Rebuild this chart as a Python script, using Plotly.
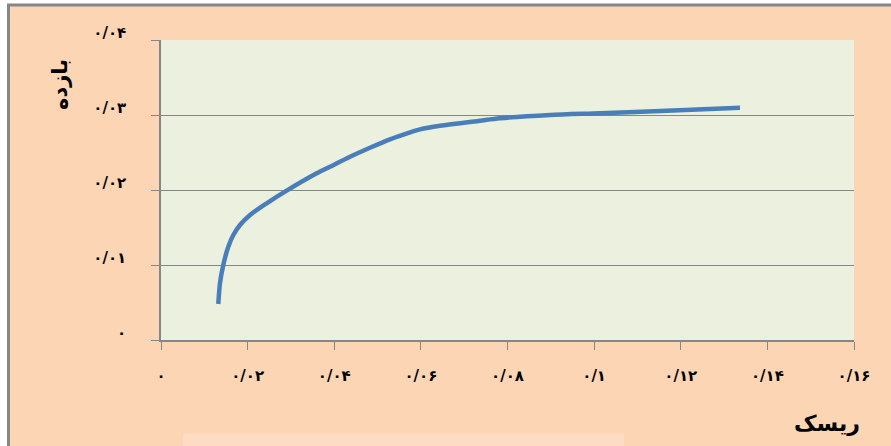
import plotly.graph_objects as go

# Data (risk vs return efficient frontier)
risk = [0.01323, 0.01362, 0.01438, 0.01554, 0.01670, 0.01824, 0.02055, 0.02440,
        0.02902, 0.03595, 0.03902, 0.04364, 0.04825, 0.05287, 0.05749, 0.05980,
        0.06442, 0.07365, 0.07827, 0.08981, 0.10136, 0.11676, 0.13368]
ret = [0.00480, 0.00756, 0.01000, 0.01244, 0.01400, 0.01533, 0.01667, 0.01823,
       0.01991, 0.02222, 0.02311, 0.02444, 0.02564, 0.02676, 0.02769, 0.02809,
       0.02857, 0.02924, 0.02956, 0.03000, 0.03023, 0.03057, 0.03097]

x_tickvals = [0, 0.02, 0.04, 0.06, 0.08, 0.10, 0.12, 0.14, 0.16]
x_ticktext = ["۰", "۰/۰۲", "۰/۰۴", "۰/۰۶", "۰/۰۸", "۰/۱", "۰/۱۲", "۰/۱۴", "۰/۱۶"]
y_tickvals = [0, 0.01, 0.02, 0.03, 0.04]
y_ticktext = ["۰", "۰/۰۱", "۰/۰۲", "۰/۰۳", "۰/۰۴"]

x_title = "ریسک"
y_title = "بازده"

W, H = 891, 446
L, R, T, B = 161, 37, 40, 106
pw, ph = W - L - R, H - T - B


def px_x(p):
    return (p - L) / pw


def px_y(p):
    return (H - B - p) / ph


fig = go.Figure()
fig.add_trace(go.Scatter(
    x=risk, y=ret, mode="lines",
    line=dict(color="#4A7EBB", width=4.5, shape="spline", smoothing=0.8),
    hoverinfo="skip", showlegend=False,
))

gray = "#868686"
font_tick = dict(family="DejaVu Sans", size=15, color="#000000")

shapes = [
    # white outside strips
    dict(type="rect", xref="paper", yref="paper", x0=px_x(-5), x1=px_x(8), y0=px_y(460), y1=px_y(-5),
         fillcolor="white", line_width=0, layer="above"),
    dict(type="rect", xref="paper", yref="paper", x0=px_x(-5), x1=px_x(900), y0=px_y(5), y1=px_y(-5),
         fillcolor="white", line_width=0, layer="above"),
    # gray border lines
    dict(type="line", xref="paper", yref="paper", x0=px_x(8.5), x1=px_x(8.5), y0=px_y(460), y1=px_y(4),
         line=dict(color=gray, width=3), layer="above"),
    dict(type="line", xref="paper", yref="paper", x0=px_x(7), x1=px_x(900), y0=px_y(5), y1=px_y(5),
         line=dict(color=gray, width=3), layer="above"),
    # faint lighter strip at bottom
    dict(type="rect", xref="paper", yref="paper", x0=px_x(183), x1=px_x(624), y0=px_y(450), y1=px_y(434),
         fillcolor="#FDDCC3", line_width=0, layer="above"),
]

annotations = [
    dict(text=f"<b>{y_title}</b>", xref="paper", yref="paper", x=px_x(60), y=px_y(85),
         showarrow=False, textangle=-90, font=dict(family="DejaVu Sans", size=21, color="#000"),
         xanchor="center", yanchor="middle"),
    dict(text=f"<b>{x_title}</b>", xref="paper", yref="paper", x=px_x(827), y=px_y(423),
         showarrow=False, font=dict(family="DejaVu Sans", size=22, color="#000"),
         xanchor="center", yanchor="middle"),
]

fig.update_layout(
    width=W, height=H,
    margin=dict(l=L, r=R, t=T, b=B, pad=0),
    paper_bgcolor="#FCD5B5",
    plot_bgcolor="#EBF1DE",
    shapes=shapes,
    annotations=annotations,
    xaxis=dict(
        range=[0, 0.16], tickvals=x_tickvals, ticktext=[f"<b>{t}</b>" for t in x_ticktext],
        showgrid=False, zeroline=False, showline=True, linecolor=gray, linewidth=2,
        ticks="outside", ticklen=8, tickcolor=gray, tickwidth=1,
        tickfont=font_tick, ticklabelstandoff=13, fixedrange=True,
    ),
    yaxis=dict(
        range=[0, 0.04], tickvals=y_tickvals, ticktext=[f"<b>{t}</b>" for t in y_ticktext],
        showgrid=True, gridcolor=gray, gridwidth=1.3, zeroline=False,
        showline=True, linecolor=gray, linewidth=1.5,
        ticks="outside", ticklen=8, tickcolor=gray, tickwidth=1,
        tickfont=font_tick, ticklabelstandoff=22, ticklabelshift=-7, fixedrange=True,
    ),
)

fig.write_html("out.html", config={"displayModeBar": False},
               post_script="document.body.style.margin='0';")
